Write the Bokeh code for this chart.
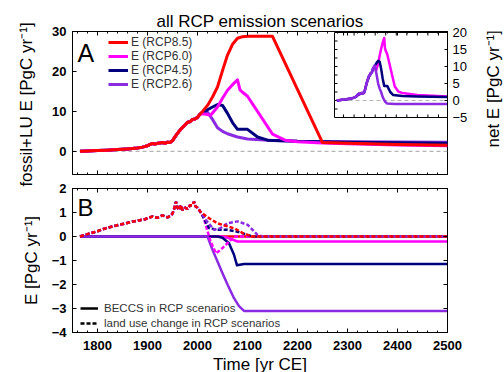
import math
from bokeh.plotting import figure
from bokeh.models import (Range1d, LinearAxis, FixedTicker, SingleIntervalTicker, Span,
                          Legend, LegendItem, Label)
from bokeh.layouts import column, row
from bokeh.embed import file_html
from bokeh.resources import INLINE

FONT = "Liberation Sans"

# ---------------- axes / limits ----------------
X_LIMITS = [1750, 2500]
A_Y_LIMITS = [-5.8, 30]
B_Y_LIMITS = [-4, 2]
INSET_X_LIMITS = [1750, 2500]
INSET_Y_LIMITS = [-5, 20]
A_Y_TICKS = [0, 10, 20, 30]
B_Y_TICKS = [-4, -3, -2, -1, 0, 1, 2]
INSET_Y_TICKS = [-5, 0, 5, 10, 15, 20]
INSET_X_MINOR = [1810, 1880, 1950, 2020, 2090, 2160, 2230, 2300, 2370, 2440]
INSET_Y_MINOR = [-2.5, 0, 2.5, 5, 7.5, 10, 12.5, 15, 17.5]

SCENARIOS = ["RCP8.5", "RCP6.0", "RCP4.5", "RCP2.6"]
COLORS = {"RCP8.5": "#ff0000", "RCP6.0": "#ff00ff", "RCP4.5": "#00007f", "RCP2.6": "#8a2be2"}

TITLE = "all RCP emission scenarios"
A_YLABEL = "fossil+LU E [PgC yr\u207b\u00b9]"
B_YLABEL = "E [PgC yr\u207b\u00b9]"
INSET_YLABEL = "net E [PgC yr\u207b\u00b9]"
XLABEL = "Time [yr CE]"

# ---------------- panel A: fossil + land-use emissions ----------------
hist_years = [1765, 1780, 1800, 1820, 1840, 1860, 1870, 1880, 1890, 1900, 1905, 1910, 1915,
              1920, 1925, 1930, 1935, 1940, 1945, 1950, 1955, 1960, 1965, 1970, 1975, 1980,
              1985, 1990, 1995, 2000, 2005]
hist_e = [0.0, 0.1, 0.2, 0.3, 0.45, 0.6, 0.7, 0.85, 1.05, 1.4, 1.75, 1.95, 1.8,
          2.0, 2.1, 2.2, 2.0, 2.3, 2.2, 2.7, 3.6, 4.5, 5.3, 6.0, 6.6, 7.3,
          7.4, 8.0, 8.1, 8.5, 9.3]

e85_years = [2005, 2010, 2020, 2030, 2040, 2050, 2060, 2070, 2080, 2090, 2100, 2150, 2250, 2300, 2400, 2500]
e85 = [9.3, 10.0, 11.5, 13.6, 16.1, 20.2, 24.1, 26.8, 28.3, 28.7, 28.8, 28.8, 2.2, 2.0, 1.7, 1.5]
e60_years = [2005, 2010, 2020, 2026, 2030, 2040, 2050, 2060, 2070, 2080, 2085, 2090, 2100, 2150,
             2175, 2200, 2250, 2300, 2400, 2500]
e60 = [9.3, 9.4, 9.2, 9.0, 9.6, 11.1, 13.3, 15.3, 16.7, 17.9, 15.4, 14.8, 13.8, 4.3,
       2.8, 2.4, 2.1, 1.9, 1.6, 1.4]
e45_years = [2005, 2010, 2020, 2030, 2040, 2050, 2060, 2070, 2080, 2100, 2120, 2140, 2200, 2300, 2500]
e45 = [9.3, 9.6, 10.4, 11.1, 11.7, 11.5, 9.5, 7.2, 5.5, 5.5, 3.6, 2.8, 2.5, 2.3, 2.0]
e26_years = [2005, 2010, 2016, 2020, 2030, 2040, 2050, 2060, 2080, 2100, 2150, 2200, 2300, 2500]
e26 = [9.3, 9.8, 10.3, 9.8, 8.0, 5.9, 5.0, 4.4, 3.6, 3.1, 2.7, 2.5, 2.4, 2.3]

# ---------------- inset: net emissions ----------------
net60_years = [2005, 2010, 2020, 2026, 2030, 2040, 2050, 2060, 2070, 2080, 2085, 2090, 2100, 2150,
               2175, 2200, 2300, 2500]
net60 = [9.3, 9.4, 9.2, 8.8, 9.4, 10.9, 13.2, 15.3, 17.0, 18.4, 15.4, 14.6, 13.6, 4.1,
         2.6, 2.2, 1.6, 1.2]
net45_years = [2005, 2010, 2020, 2030, 2040, 2050, 2060, 2070, 2080, 2100, 2120, 2140, 2200, 2300, 2500]
net45 = [9.3, 9.6, 10.4, 11.1, 11.7, 11.4, 9.2, 6.4, 4.3, 4.3, 2.5, 1.6, 1.3, 1.2, 1.0]
net26_years = [2005, 2010, 2016, 2020, 2030, 2040, 2050, 2060, 2070, 2085, 2100, 2150, 2300, 2500]
net26 = [9.3, 9.8, 10.3, 9.8, 7.4, 4.9, 3.5, 2.4, 1.0, -0.3, -0.9, -1.0, -1.0, -1.0]

# ---------------- panel B: land use change (dashed) and BECCS (solid) ----------------
lu_hist_years = [1765, 1780, 1800, 1817, 1830, 1845, 1857, 1870, 1885, 1895, 1905, 1910, 1920,
                 1930, 1940, 1945, 1950, 1954, 1957, 1960, 1963, 1967, 1970, 1975, 1980, 1985,
                 1990, 1993, 1996, 2000, 2005]
lu_hist = [0.0, 0.1, 0.22, 0.35, 0.42, 0.5, 0.55, 0.62, 0.68, 0.72, 0.8, 0.83, 0.78,
           0.88, 0.8, 0.85, 0.95, 1.2, 1.45, 1.2, 1.1, 1.3, 1.1, 1.2, 1.15, 1.3,
           1.3, 1.45, 1.25, 1.2, 1.05]
lu85_years = [2005, 2020, 2040, 2060, 2075, 2090, 2100, 2110, 2500]
lu85 = [1.05, 0.8, 0.55, 0.42, 0.33, 0.15, 0.07, 0.0, 0.0]
lu60_years = [2005, 2012, 2019, 2026, 2037, 2046, 2060, 2073, 2500]
lu60 = [1.05, 0.8, 0.3, -0.2, -0.7, -0.56, -0.28, 0.0, 0.0]
lu45_years = [2005, 2016, 2023, 2040, 2060, 2080, 2100, 2110, 2500]
lu45 = [1.0, 0.63, 0.35, 0.28, 0.28, 0.2, 0.07, 0.0, 0.0]
lu26_years = [2005, 2019, 2033, 2046, 2060, 2080, 2100, 2120, 2130, 2500]
lu26 = [1.05, 0.63, 0.28, 0.35, 0.55, 0.63, 0.49, 0.07, 0.0, 0.0]

be85_years = [1765, 2500]
be85 = [0.0, 0.0]
be60_years = [1765, 2050, 2060, 2080, 2500]
be60 = [0.0, 0.0, -0.05, -0.21, -0.21]
be45_years = [1765, 2040, 2050, 2063, 2073, 2079, 2093, 2500]
be45 = [0.0, 0.0, -0.05, -0.28, -0.76, -1.2, -1.15, -1.15]
be26_years = [1765, 2020, 2030, 2040, 2050, 2060, 2073, 2083, 2093, 2500]
be26 = [0.0, 0.0, -0.55, -1.04, -1.53, -2.0, -2.57, -2.9, -3.1, -3.1]

NAN = float("nan")


def style_axis(ax, show_labels=True, label=None, label_size="17px"):
    ax.major_tick_in = 4
    ax.major_tick_out = 0
    ax.minor_tick_in = 2
    ax.minor_tick_out = 0
    ax.axis_line_color = "black"
    ax.major_tick_line_color = "black"
    ax.minor_tick_line_color = "black"
    ax.major_label_text_font = FONT
    ax.major_label_text_font_style = "bold"
    ax.major_label_text_line_height = 1.0
    if show_labels:
        ax.major_label_text_color = "black"
        ax.major_label_text_font_size = "13px"
        ax.major_label_standoff = 6
    else:
        ax.major_label_text_color = None
        ax.major_label_text_font_size = "0px"
        ax.major_label_standoff = 0
    if label:
        ax.axis_label = label
        ax.axis_label_text_font = FONT
        ax.axis_label_text_font_size = label_size
        ax.axis_label_text_font_style = "normal"
        ax.axis_label_text_color = "black"
        ax.axis_label_text_line_height = 1.0


def x_ticker():
    return SingleIntervalTicker(interval=100, num_minor_ticks=5)


def label_strip(w, h):
    """A bare canvas (no axes) whose frame is the whole canvas, used for rotated titles."""
    s = figure(width=w, height=h, x_range=Range1d(0, w), y_range=Range1d(0, h),
               output_backend="svg", toolbar_location=None,
               x_axis_location=None, y_axis_location=None,
               min_border_left=0, min_border_right=0, min_border_top=0, min_border_bottom=0)
    s.xgrid.visible = False
    s.ygrid.visible = False
    s.outline_line_color = None
    return s


def vlabel(text, x, y, size):
    return Label(x=x, y=y, text=text, angle=math.pi / 2, text_align="center",
                 text_baseline="middle", text_font=FONT, text_font_size=size,
                 text_color="black")


# ======================= Panel A =======================
pA = figure(frame_width=375, frame_height=143, x_range=Range1d(*X_LIMITS),
            y_range=Range1d(*A_Y_LIMITS),
            output_backend="svg", toolbar_location=None,
            min_border_left=32, min_border_right=36, min_border_top=31, min_border_bottom=7)
pA.title.text = TITLE
pA.title.align = "center"
pA.title.text_font = FONT
pA.title.text_font_size = "17px"
pA.title.text_font_style = "normal"
pA.title.text_color = "black"
pA.title.standoff = 1
pA.xgrid.visible = False
pA.ygrid.visible = False
pA.outline_line_color = "black"

pA.xaxis.ticker = x_ticker()
style_axis(pA.xaxis[0], show_labels=False)
pA.yaxis.ticker = FixedTicker(ticks=A_Y_TICKS)
style_axis(pA.yaxis[0])
topA = LinearAxis(ticker=x_ticker())
style_axis(topA, show_labels=False)
pA.add_layout(topA, "above")

pA.add_layout(Span(location=0, dimension="width", line_color="#b4b4b4", line_dash="4 3",
                   line_width=1.2, level="underlay"))

# inset coordinate system (extra ranges)
pA.extra_x_ranges = {"inset": Range1d(11, 2500)}
pA.extra_y_ranges = {"inset": Range1d(-21.76, 20.29)}
rightA = LinearAxis(x_range_name="inset", y_range_name="inset",
                    ticker=FixedTicker(ticks=INSET_Y_TICKS), bounds=tuple(INSET_Y_LIMITS))
style_axis(rightA)
rightA.major_label_text_font_style = "normal"
rightA.major_tick_in = 3
rightA.major_label_standoff = 5
pA.add_layout(rightA, "right")

main_series = {
    "RCP2.6": (e26_years, e26),
    "RCP4.5": (e45_years, e45),
    "RCP6.0": (e60_years, e60),
    "RCP8.5": (e85_years, e85),
}
rendA = {}
for sc in ["RCP2.6", "RCP4.5", "RCP6.0", "RCP8.5"]:
    yrs, vals = main_series[sc]
    rendA[sc] = pA.line(hist_years + yrs[1:], hist_e + vals[1:], line_color=COLORS[sc],
                        line_width=3, line_join="round")

# inset box, zero line, ticks, curves
pA.quad(left=[INSET_X_LIMITS[0]], right=[INSET_X_LIMITS[1]], bottom=[INSET_Y_LIMITS[0]],
        top=[INSET_Y_LIMITS[1]], fill_color="white", line_color="black", line_width=1,
        x_range_name="inset", y_range_name="inset")
pA.line(INSET_X_LIMITS, [0, 0], line_color="#b4b4b4", line_dash="4 3", line_width=1.2,
        x_range_name="inset", y_range_name="inset")
tick_len_y = 0.9
tick_len_x = 20
nx = len(INSET_X_MINOR)
ny = len(INSET_Y_MINOR)
pA.segment(x0=INSET_X_MINOR, x1=INSET_X_MINOR, y0=[INSET_Y_LIMITS[0]] * nx,
           y1=[INSET_Y_LIMITS[0] + tick_len_y] * nx, line_color="black",
           x_range_name="inset", y_range_name="inset")
pA.segment(x0=INSET_X_MINOR, x1=INSET_X_MINOR, y0=[INSET_Y_LIMITS[1]] * nx,
           y1=[INSET_Y_LIMITS[1] - tick_len_y] * nx, line_color="black",
           x_range_name="inset", y_range_name="inset")
pA.segment(x0=[INSET_X_LIMITS[0]] * ny, x1=[INSET_X_LIMITS[0] + tick_len_x] * ny,
           y0=INSET_Y_MINOR, y1=INSET_Y_MINOR, line_color="black",
           x_range_name="inset", y_range_name="inset")
net_series = {
    "RCP6.0": (net60_years, net60),
    "RCP4.5": (net45_years, net45),
    "RCP2.6": (net26_years, net26),
}
for sc in ["RCP6.0", "RCP4.5", "RCP2.6"]:
    yrs, vals = net_series[sc]
    pA.line(hist_years + yrs[1:], hist_e + vals[1:], line_color=COLORS[sc], line_width=2.5,
            line_join="round", x_range_name="inset", y_range_name="inset")

pA.add_layout(Label(x=1760, y=24.5, text="A", text_font=FONT, text_font_size="25px",
                    text_baseline="alphabetic", text_color="black"))

legA = Legend(items=[LegendItem(label=f"E ({sc})", renderers=[rendA[sc]]) for sc in SCENARIOS],
              location=(36, 83), glyph_width=20, glyph_height=12, label_height=12,
              label_standoff=3, spacing=0, padding=0, margin=0,
              border_line_color=None, background_fill_alpha=0,
              label_text_font=FONT, label_text_font_size="12px", label_text_color="#333333",
              label_text_line_height=1.0)
pA.add_layout(legA)

# ======================= Panel B =======================
pB = figure(frame_width=375, frame_height=144, x_range=pA.x_range, y_range=Range1d(*B_Y_LIMITS),
            output_backend="svg", toolbar_location=None,
            min_border_left=32, min_border_right=57, min_border_top=7, min_border_bottom=40)
pB.xgrid.visible = False
pB.ygrid.visible = False
pB.outline_line_color = "black"
pB.xaxis.ticker = x_ticker()
style_axis(pB.xaxis[0], label=XLABEL)
pB.xaxis[0].major_label_standoff = 8
pB.xaxis[0].axis_label_standoff = 2
pB.yaxis.ticker = FixedTicker(ticks=B_Y_TICKS)
style_axis(pB.yaxis[0])
topB = LinearAxis(ticker=x_ticker())
style_axis(topB, show_labels=False)
pB.add_layout(topB, "above")
rightB = LinearAxis(ticker=FixedTicker(ticks=B_Y_TICKS))
style_axis(rightB, show_labels=False)
pB.add_layout(rightB, "right")

pB.add_layout(Span(location=0, dimension="width", line_color="#b4b4b4", line_dash="4 3",
                   line_width=1.2, level="underlay"))

beccs = {"RCP8.5": (be85_years, be85), "RCP6.0": (be60_years, be60),
         "RCP4.5": (be45_years, be45), "RCP2.6": (be26_years, be26)}
for sc in ["RCP8.5", "RCP6.0", "RCP4.5", "RCP2.6"]:
    yrs, vals = beccs[sc]
    pB.line(yrs, vals, line_color=COLORS[sc], line_width=2.5, line_join="round")

lu = {"RCP6.0": (lu60_years, lu60), "RCP4.5": (lu45_years, lu45),
      "RCP2.6": (lu26_years, lu26), "RCP8.5": (lu85_years, lu85)}
for sc in ["RCP6.0", "RCP4.5", "RCP2.6", "RCP8.5"]:
    yrs, vals = lu[sc]
    pB.line(lu_hist_years + yrs[1:], lu_hist + vals[1:], line_color=COLORS[sc],
            line_width=2.5, line_dash="4 2")

pB.add_layout(Label(x=1760, y=1.19, text="B", text_font=FONT, text_font_size="24px",
                    text_baseline="alphabetic", text_color="black"))

leg_solid = pB.line([NAN], [NAN], line_color="black", line_width=2.5)
leg_dash = pB.line([NAN], [NAN], line_color="black", line_width=2.5, line_dash="4 2")
legB = Legend(items=[LegendItem(label="BECCS in RCP scenarios", renderers=[leg_solid]),
                     LegendItem(label="land use change in RCP scenarios", renderers=[leg_dash])],
              location=(8, 3), glyph_width=18, glyph_height=12, label_height=12,
              label_standoff=6, spacing=3, padding=0, margin=0,
              border_line_color=None, background_fill_alpha=0,
              label_text_font=FONT, label_text_font_size="11.5px", label_text_color="#333333",
              label_text_line_height=1.0)
pB.add_layout(legB)

# ======================= rotated axis titles =======================
left_strip = label_strip(40, 372)
left_strip.add_layout(vlabel(A_YLABEL, 26, 372 - 104, "17px"))
left_strip.add_layout(vlabel(B_YLABEL, 31, 372 - 260, "17px"))

right_strip = label_strip(21, 181)
right_strip.add_layout(vlabel(INSET_YLABEL, 10, 181 - 72.5, "17px"))

layout = row(left_strip, column(row(pA, right_strip, spacing=0), pB, spacing=0), spacing=0)
open("out.html", "w").write(file_html(layout, INLINE))
